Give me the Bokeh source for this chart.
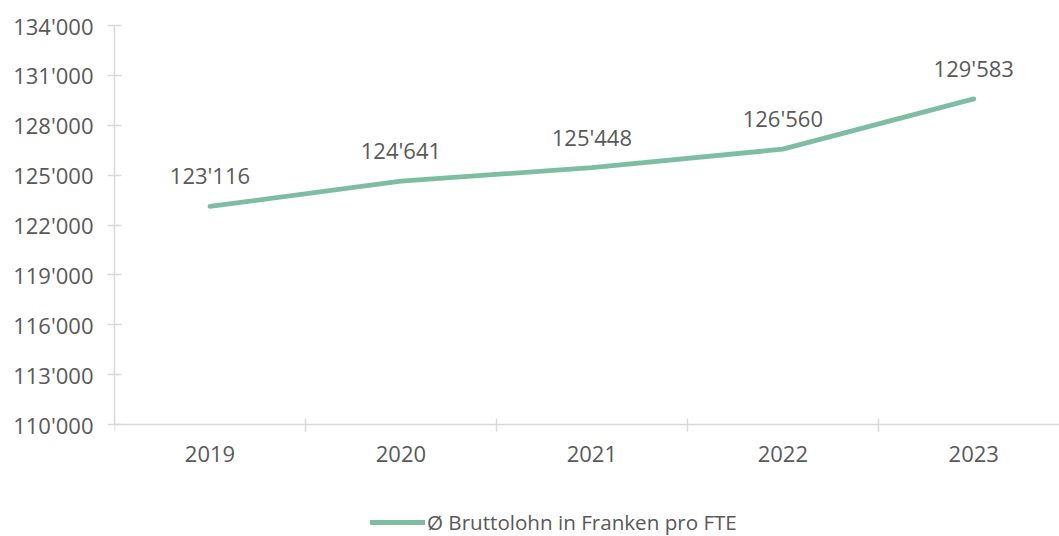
from bokeh.plotting import figure
from bokeh.models import Range1d, FixedTicker, ColumnDataSource, LabelSet, Legend, LegendItem
from bokeh.core.properties import value
from bokeh.embed import file_html
from bokeh.resources import INLINE

years = ["2019", "2020", "2021", "2022", "2023"]
salary = [123116, 124641, 125448, 126560, 129583]
y_ticks = [110000, 113000, 116000, 119000, 122000, 125000, 128000, 131000, 134000]
series_name = "Ø Bruttolohn in Franken pro FTE"

FONT = "Open Sans"
TXT = "#595959"
AX = "#d9d9d9"
LINE = "#7dbea2"

def fmt(v):
    return f"{v:,}".replace(",", "'")

idx = list(range(len(years)))
src = ColumnDataSource(dict(x=idx, y=salary, lab=[fmt(v) for v in salary]))

y_min, y_max = y_ticks[0], y_ticks[-1]
# frame spans to the bottom of the canvas so the legend can sit below the axis
y_start = y_min - (536 - 424) * (y_max - y_min) / 399.0

p = figure(width=1059, height=536, output_backend="svg", toolbar_location=None,
           x_range=Range1d(-0.5, 4.449), y_range=Range1d(y_start, y_max),
           min_border_left=114, min_border_top=25, min_border_right=0, min_border_bottom=0)
p.outline_line_color = None
p.xgrid.visible = False
p.ygrid.visible = False

r = p.line("x", "y", source=src, line_color=LINE, line_width=4.8, line_cap="round", line_join="round")

labels = LabelSet(x="x", y="y", text="lab", source=src, text_align="center", text_baseline="middle",
                  y_offset=31, text_font=value(FONT), text_font_size="22px", text_color=TXT)
p.add_layout(labels)

# axes
p.yaxis.ticker = FixedTicker(ticks=y_ticks)
p.yaxis.major_label_overrides = {t: fmt(t) for t in y_ticks}
p.yaxis.bounds = (y_min, y_max)
p.xaxis.ticker = FixedTicker(ticks=idx, minor_ticks=[i - 0.5 for i in idx])
p.xaxis.major_label_overrides = {i: y for i, y in zip(idx, years)}
p.xaxis.fixed_location = y_min
for ax in (p.xaxis[0], p.yaxis[0]):
    ax.axis_line_color = AX
    ax.axis_line_width = 1.5
    ax.major_label_text_font = FONT
    ax.major_label_text_font_size = "22px"
    ax.major_label_text_color = TXT
    ax.minor_tick_line_color = None
p.yaxis.major_tick_line_color = AX
p.yaxis.major_tick_line_width = 1.5
p.yaxis.major_tick_in = 7
p.yaxis.major_tick_out = 7
p.yaxis.major_label_standoff = 14
p.xaxis.major_tick_line_color = None
p.xaxis.minor_tick_line_color = AX
p.xaxis.minor_tick_line_width = 1.5
p.xaxis.minor_tick_in = 6
p.xaxis.minor_tick_out = 7
p.xaxis.major_label_standoff = 14

legend = Legend(items=[LegendItem(label=series_name, renderers=[r])], location=(256, 0),
                padding=0, margin=0, spacing=0, glyph_width=55, glyph_height=22, label_height=22,
                label_standoff=2, label_text_font=FONT, label_text_font_size="20.6px",
                label_text_color=TXT, border_line_color=None, background_fill_alpha=0)
p.add_layout(legend, "center")

open("out.html", "w").write(file_html(p, INLINE))
